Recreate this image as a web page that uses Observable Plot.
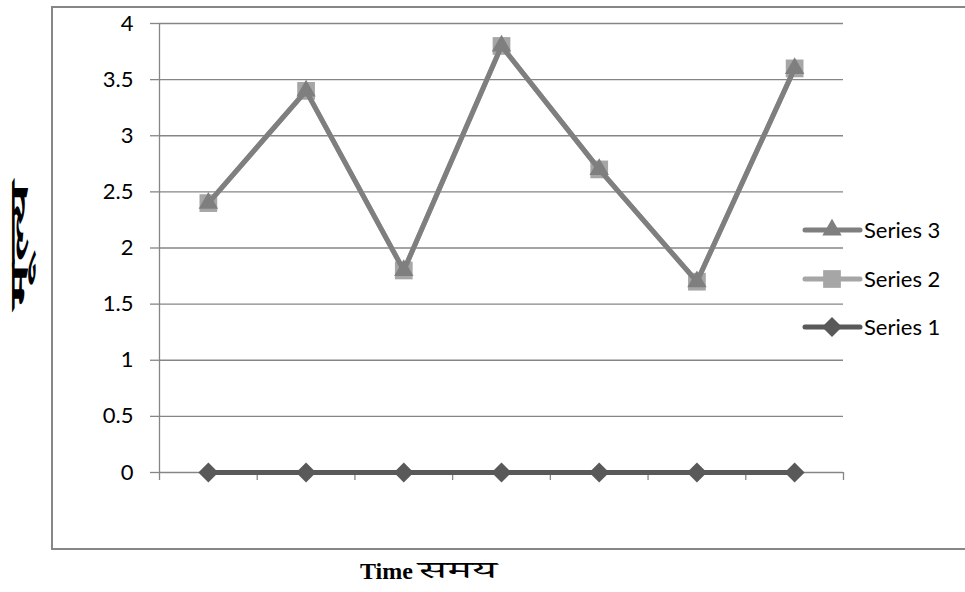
<!DOCTYPE html>
<html>
<head>
<meta charset="utf-8">
<script src="https://cdn.jsdelivr.net/npm/d3@7"></script>
<script src="https://cdn.jsdelivr.net/npm/@observablehq/plot@0.6"></script>
<style>
  body { margin: 0; background: #fff; }
  #wrap { position: relative; width: 965px; height: 592px; overflow: hidden; }
  #border { position: absolute; left: 51px; top: 6px; width: 940px; height: 544px; border: 2px solid #868686; box-sizing: border-box; }
  #chart, #overlay { position: absolute; left: 0; top: 0; }
  #chart svg [aria-label="x-axis"] line, #chart svg [aria-label="y-axis"] line,
  #chart svg [aria-label="x-axis tick"], #chart svg [aria-label="y-axis tick"] { stroke: #868686; stroke-width: 1.3px; }
</style>
</head>
<body>
<div id="wrap">
  <div id="border"></div>
  <div id="chart"></div>
  <svg id="overlay" width="965" height="592"></svg>
</div>
<script>
// ---- data ----
const categories = [1, 2, 3, 4, 5, 6, 7];
const series1 = [0, 0, 0, 0, 0, 0, 0];
const series2 = [2.4, 3.4, 1.8, 3.8, 2.7, 1.7, 3.6];
const series3 = [2.4, 3.4, 1.8, 3.8, 2.7, 1.7, 3.6];
const seriesNames = ["Series 1", "Series 2", "Series 3"];
const seriesColors = ["#595959", "#A6A6A6", "#7F7F7F"];
const seriesSymbols = ["diamond2", "square", "triangle"];
const seriesRadius = [9, 10, 7.2];
const yTicks = [0, 0.5, 1, 1.5, 2, 2.5, 3, 3.5, 4];
const xLabel = "Time समय";
const yLabel = "मूल्य";

const seriesValues = [series1, series2, series3];
const boundaries = [...categories.map((c, i) => i + 0.5), categories.length + 0.5];

const marks = [
  Plot.ruleY(yTicks, {stroke: "#868686", strokeWidth: 1.3}),
  Plot.ruleX([0.5], {stroke: "#868686", strokeWidth: 1.3})
];
seriesValues.forEach((vals, s) => {
  const rows = categories.map((c, i) => ({x: i + 1, value: vals[i]}));
  marks.push(Plot.line(rows, {x: "x", y: "value", stroke: seriesColors[s], strokeWidth: 5}));
  marks.push(Plot.dot(rows, {x: "x", y: "value", symbol: seriesSymbols[s], r: seriesRadius[s], fill: seriesColors[s], stroke: "none"}));
});

const chart = Plot.plot({
  width: 965,
  height: 592,
  marginLeft: 159,
  marginRight: 122,
  marginTop: 23,
  marginBottom: 120,
  style: {fontFamily: "Lato, 'Open Sans', sans-serif", fontSize: "22px", color: "#000", background: "transparent", overflow: "visible"},
  x: {type: "linear", domain: [0.5, categories.length + 0.5], ticks: boundaries, tickSize: 8, tickFormat: () => "", label: null},
  y: {domain: [0, 4], ticks: yTicks, tickSize: 9, tickPadding: 17, tickFormat: d => String(d), label: null},
  marks
});
document.getElementById("chart").appendChild(chart);

// ---- overlay: legend and axis titles ----
const ov = d3.select("#overlay");
const legendOrder = [2, 1, 0];
const legendY = [230, 279, 327];
legendOrder.forEach((s, k) => {
  const y = legendY[k];
  ov.append("line").attr("x1", 805).attr("x2", 860).attr("y1", y).attr("y2", y)
    .attr("stroke", seriesColors[s]).attr("stroke-width", 5).attr("stroke-linecap", "round");
  ov.append("path")
    .attr("d", d3.symbol(seriesSymbols[s] === "diamond2" ? d3.symbolDiamond2 : seriesSymbols[s] === "square" ? d3.symbolSquare : d3.symbolTriangle, Math.PI * seriesRadius[s] * seriesRadius[s])())
    .attr("transform", `translate(832,${y})`)
    .attr("fill", seriesColors[s]);
  ov.append("text").attr("x", 864).attr("y", y).attr("dy", "0.35em")
    .attr("font-family", "Lato, 'Open Sans', sans-serif").attr("font-size", 22).attr("fill", "#000")
    .text(seriesNames[s]);
});
const [xWord1, xWord2] = xLabel.split(" ");
ov.append("text").attr("x", 360).attr("y", 579)
  .attr("font-family", "'Liberation Serif', serif")
  .attr("font-weight", "bold").attr("font-size", 24).attr("fill", "#000")
  .text(xWord1);
ov.append("text").attr("x", 418).attr("y", 578)
  .attr("font-family", "'Noto Serif Devanagari', 'Noto Sans Devanagari', 'Liberation Serif', serif")
  .attr("font-size", 24).attr("fill", "#000")
  .attr("textLength", 79).attr("lengthAdjust", "spacingAndGlyphs")
  .text(xWord2);
ov.append("text").attr("transform", "translate(28,245) rotate(-90)")
  .attr("text-anchor", "middle")
  .attr("font-family", "'Noto Serif Devanagari', 'Noto Sans Devanagari', 'Liberation Serif', serif")
  .attr("font-weight", "bold").attr("font-size", 26).attr("fill", "#000")
  .attr("textLength", 125).attr("lengthAdjust", "spacingAndGlyphs")
  .text(yLabel);
</script>
</body>
</html>
